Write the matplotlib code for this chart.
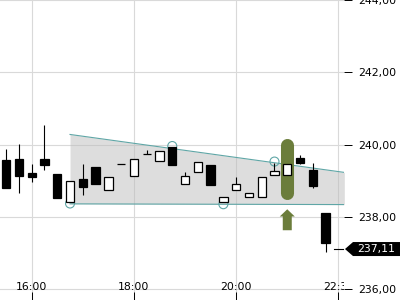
import matplotlib
matplotlib.use("Agg")
import matplotlib.pyplot as plt
from matplotlib.patches import Rectangle, Polygon
from matplotlib.transforms import blended_transform_factory
import numpy as np

# 15 minute candles
times = ["15:30", "15:45", "16:00", "16:15", "16:30", "16:45", "17:00", "17:15", "17:30",
         "17:45", "18:00", "18:15", "18:30", "18:45", "19:00", "19:15", "19:30", "19:45",
         "20:00", "20:15", "20:30", "20:45", "21:00", "21:15", "21:30", "21:45"]
opens = [239.57, 239.59, 239.21, 239.61, 239.18, 238.40, 239.04, 239.37, 238.73,
         239.45, 239.12, 239.73, 239.54, 239.92, 238.90, 239.25, 239.43, 238.40,
         238.73, 238.56, 238.56, 239.17, 239.17, 239.64, 239.29, 238.12]
highs = [239.87, 240.01, 239.46, 240.53, 239.18, 238.99, 239.46, 239.37, 239.09,
         239.45, 239.61, 239.84, 239.81, 239.92, 239.23, 239.51, 239.43, 238.56,
         239.10, 238.67, 239.09, 239.50, 239.45, 239.70, 239.48, 238.12]
lows = [238.80, 238.66, 238.96, 239.30, 238.52, 238.40, 238.61, 238.91, 238.73,
        239.45, 239.12, 239.73, 239.54, 239.44, 238.90, 239.25, 238.88, 238.40,
        238.73, 238.56, 238.56, 239.17, 239.17, 239.45, 238.79, 237.02]
closes = [238.80, 239.13, 239.10, 239.44, 238.52, 238.99, 238.83, 238.91, 239.09,
          239.45, 239.61, 239.73, 239.81, 239.44, 239.12, 239.51, 238.88, 238.56,
          238.90, 238.67, 239.09, 239.27, 239.45, 239.50, 238.86, 237.29]
last_price = 237.11

# triangle pattern
wedge_x = ["16:45", "22:07"]
wedge_upper = [240.28, 239.23]
wedge_lower = [238.36, 238.34]
touch_times = ["16:45", "18:45", "19:45", "20:45"]
touch_prices = [238.37, 239.96, 238.35, 239.53]
signal_time = "21:00"
signal_bar = [238.67, 239.99]
signal_arrow = [237.63, 238.21]

tick_hours = [16, 18, 20, 22]
tick_labels = ["16:00", "18:00", "20:00"]


def to_hours(s):
    h, m = s.split(":")
    return int(h) + int(m) / 60.0


t = np.array([to_hours(s) for s in times])
green = "#6b7d3b"
teal = "#5fa6a6"

fig = plt.figure(figsize=(4, 3), dpi=100)
ax = fig.add_axes([0, 0, 344 / 400, 1])
ax.set_xlim(15.38, 22.11)
ax.set_ylim(235.70, 244.0)
for s in ax.spines.values():
    s.set_visible(False)

ax.grid(color="#d9d9d9", lw=0.8)
ax.set_axisbelow(True)
ax.set_xticks(tick_hours)
ax.tick_params(axis="x", direction="in", length=6, width=0.7, labelbottom=False)
ax.set_yticks([236, 238, 240, 242, 244])
ax.yaxis.tick_right()
ax.set_yticklabels([f"{v:.2f}".replace(".", ",") for v in [236, 238, 240, 242, 244]])
ax.tick_params(axis="y", length=6, width=0.7, pad=4.5, labelsize=7.8)

# x labels sit inside the axes
bt = blended_transform_factory(ax.transData, ax.transAxes)
for h, lab in zip(tick_hours, tick_labels):
    ax.text(h, 0.044, lab, transform=bt, ha="center", va="center", fontsize=7.8)
ax.text(21.695, 0.044, "22:30", transform=bt, ha="left", va="center", fontsize=7.8, clip_on=True)

# triangle
wx = [to_hours(s) for s in wedge_x]
ax.fill_between(wx, wedge_lower, wedge_upper, color="#bdbdbd", alpha=0.5, lw=0, zorder=1)
ax.plot(wx, wedge_upper, color=teal, lw=0.8, zorder=1.5)
ax.plot(wx, wedge_lower, color=teal, lw=0.8, zorder=1.5)
ax.scatter([to_hours(s) for s in touch_times], touch_prices, s=42, facecolors="none",
           edgecolors=teal, linewidths=0.8, zorder=2)

# signal marker
st = to_hours(signal_time)
ax.plot([st, st], signal_bar, lw=9.4, color=green, solid_capstyle="round", zorder=2)
ax.arrow(st, signal_arrow[0], 0, signal_arrow[1] - signal_arrow[0], width=0.176,
         head_width=0.294, head_length=0.2, length_includes_head=True, fc=green, ec="none", zorder=2)

# candles
w = 0.162
for i in range(len(t)):
    o, h, l, c = opens[i], highs[i], lows[i], closes[i]
    ax.vlines(t[i], l, h, color="black", lw=0.8, zorder=3)
    fc = "white" if c > o else "black"
    ax.add_patch(Rectangle((t[i] - w / 2, min(o, c)), w, abs(c - o), fc=fc, ec="black",
                           lw=0.9, zorder=4))

# last price tag
fig.canvas.draw()
yp = ax.transData.transform((22, last_price))[1]
ax.plot([334 / 344, 343 / 344], [last_price, last_price], color="black", lw=0.8,
        transform=blended_transform_factory(ax.transAxes, ax.transData), clip_on=False)
tag = Polygon([(345, yp), (353, yp + 7), (400, yp + 7), (400, yp - 7), (353, yp - 7)],
              closed=True, fc="black", ec="none", transform=None)
fig.add_artist(tag)
fig.text(376 / 400, yp / 300, f"{last_price:.2f}".replace(".", ","), color="white",
         ha="center", va="center", fontsize=7.8)

fig.savefig("out.png", dpi=100)
